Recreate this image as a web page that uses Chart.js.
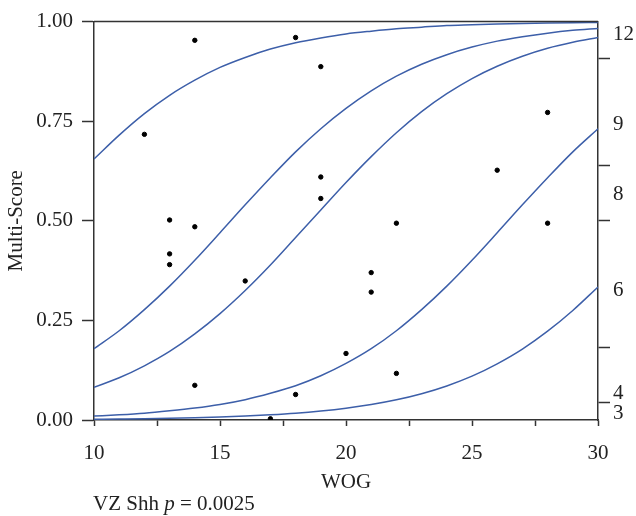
<!DOCTYPE html>
<html>
<head>
<meta charset="utf-8">
<script src="https://cdn.jsdelivr.net/npm/chart.js@4"></script>
<style>
  body { margin: 0; background: #fff; }
  #wrap { position: relative; width: 636px; height: 516px; }
  #note { position: absolute; left: 93px; top: 490px; font-family: "Liberation Serif", "DejaVu Serif", serif; font-size: 21px; line-height: 26px; color: #222; white-space: nowrap; }
</style>
</head>
<body>
<div id="wrap">
  <canvas id="myChart" width="636" height="516"></canvas>
  <div id="note">VZ Shh <i>p</i> = 0.0025</div>
</div>
<script>
// WOG grid where the curves were read
let wog = [10,11,12,13,14,15,16,17,18,19,20,21,22,23,24,25,26,27,28,29,30]

// cumulative probability curves, top to bottom
let curve1 = [0.655,0.715,0.769,0.815,0.853,0.885,0.910,0.931,0.947,0.959,0.969,0.976,0.982,0.986,0.990,0.992,0.994,0.9955,0.9966,0.9974,0.998]
let curve2 = [0.179,0.224,0.277,0.336,0.401,0.470,0.540,0.608,0.673,0.731,0.782,0.826,0.863,0.893,0.917,0.936,0.951,0.962,0.971,0.978,0.983]
let curve3 = [0.082,0.106,0.136,0.172,0.216,0.267,0.325,0.389,0.458,0.527,0.596,0.661,0.721,0.774,0.819,0.857,0.888,0.913,0.933,0.948,0.960]
let curve4 = [0.010,0.013,0.017,0.023,0.030,0.039,0.051,0.067,0.086,0.111,0.142,0.179,0.224,0.277,0.336,0.401,0.470,0.540,0.608,0.673,0.731]
let curve5 = [0.0019,0.0025,0.0032,0.0043,0.0057,0.0075,0.0099,0.013,0.017,0.0225,0.0296,0.0388,0.0507,0.066,0.0855,0.110,0.141,0.178,0.223,0.275,0.334]

// observed points
let pointX = [12,13,13,13,14,14,14,16,17,18,18,19,19,19,20,21,21,22,22,26,28,28]
let pointY = [0.717,0.502,0.417,0.390,0.953,0.485,0.087,0.349,0.003,0.960,0.064,0.887,0.610,0.556,0.167,0.370,0.321,0.494,0.117,0.627,0.772,0.494]

// right axis: level names and where they sit, plus the boundary ticks
let levelNames = ["3","4","6","8","9","12"]
let levelPos = [0.0175,0.067,0.324,0.566,0.741,0.968]
let levelBreaks = [0.045,0.182,0.501,0.638,0.908]

const lineColor = "#3d5fa9"
const axisColor = "#333"
const serif = '"Liberation Serif", "DejaVu Serif", serif'

function toXY(ys){
    let out = []
    for (let i = 0; i < wog.length; i++){
        out.push({x: wog[i], y: ys[i]})
    }
    return out
}

let pts = []
for (let i = 0; i < pointX.length; i++){
    pts.push({x: pointX[i], y: pointY[i]})
}

function curveSet(ys){
    return {
        data: toXY(ys),
        showLine: true,
        borderColor: lineColor,
        borderWidth: 1.5,
        pointRadius: 0,
        cubicInterpolationMode: "monotone",
        fill: false
    }
}

const topLine = {
    id: "topLine",
    afterDraw(chart){
        let a = chart.chartArea
        let ctx = chart.ctx
        ctx.save()
        ctx.strokeStyle = axisColor
        ctx.lineWidth = 1.5
        ctx.beginPath()
        ctx.moveTo(a.left, a.top)
        ctx.lineTo(a.right, a.top)
        ctx.stroke()
        ctx.restore()
    }
}

Chart.defaults.font.family = serif
Chart.defaults.font.size = 21
Chart.defaults.color = "#222"

new Chart("myChart", {
    type: "scatter",
    data: {
        datasets: [
            curveSet(curve1), curveSet(curve2), curveSet(curve3), curveSet(curve4), curveSet(curve5),
            {
                data: pts,
                backgroundColor: "#000",
                borderColor: "#000",
                pointRadius: 2.2,
                showLine: false
            }
        ]
    },
    options: {
        responsive: false,
        animation: false,
        layout: { padding: { top: 19, bottom: 19, left: 0, right: 0 } },
        plugins: { legend: { display: false }, tooltip: { enabled: false } },
        scales: {
            x: {
                type: "linear", min: 10, max: 30,
                afterFit: s => { s.height = 77 },
                border: { color: axisColor, width: 1.5 },
                grid: { drawOnChartArea: false, tickLength: 6, tickColor: axisColor, tickWidth: 1.5 },
                ticks: {
                    stepSize: 2.5, padding: 15, autoSkip: false, maxRotation: 0,
                    callback: v => (v % 5 === 0 ? String(v) : "")
                },
                title: { display: true, text: "WOG", padding: { top: 2, bottom: 2 } }
            },
            y: {
                min: 0, max: 1,
                afterFit: s => { s.width = 94 },
                border: { color: axisColor, width: 1.5 },
                grid: { drawOnChartArea: false, tickLength: 12, tickColor: axisColor, tickWidth: 1.5 },
                ticks: { stepSize: 0.25, padding: 9, callback: v => v.toFixed(2) },
                title: { display: true, text: "Multi-Score", padding: { top: 4, bottom: 4 } }
            },
            y2: {
                position: "right", min: 0, max: 1,
                afterFit: s => { s.width = 38 },
                afterBuildTicks: s => {
                    s.ticks = levelBreaks.concat(levelPos).map(v => ({ value: v }))
                },
                border: { color: axisColor, width: 1.5 },
                grid: {
                    drawOnChartArea: false, tickLength: 12, tickWidth: 1.5,
                    tickColor: c => (levelBreaks.includes(c.tick.value) ? axisColor : "rgba(0,0,0,0)")
                },
                ticks: {
                    autoSkip: false, padding: 3,
                    callback: v => {
                        let k = levelPos.indexOf(v)
                        return k >= 0 ? levelNames[k] : ""
                    }
                }
            }
        }
    },
    plugins: [topLine]
})
</script>
</body>
</html>
